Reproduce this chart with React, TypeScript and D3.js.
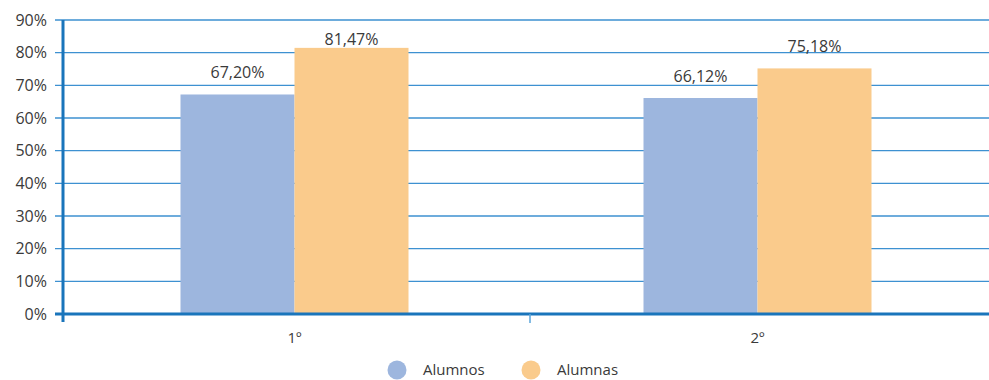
import React from "react";
import * as d3 from "d3";

const categories = ["1º", "2º"];
const seriesNames = ["Alumnos", "Alumnas"];
const alumnos = [67.2, 66.12];
const alumnas = [81.47, 75.18];
const yTicks = [0, 10, 20, 30, 40, 50, 60, 70, 80, 90];
const colors = ["#9db6de", "#facb8c"];

const W = 989;
const H = 380;
const left = 63;
const right = 989;
const top = 20;
const bottom = 314;
const font = "'Open Sans', Lato, sans-serif";

const fmt = (v: number) => v.toFixed(2).replace(".", ",") + "%";

export default function App() {
  const y = d3.scaleLinear().domain([0, 90]).range([bottom, top]);
  const x0 = d3.scaleBand<string>().domain(categories).range([left, right]).paddingInner(0).paddingOuter(0);
  const x1 = d3.scaleBand<string>().domain(seriesNames).range([0, 228]);
  const series = [alumnos, alumnas];

  return (
    <svg width={W} height={H} style={{ position: "absolute", left: 0, top: 0, background: "#fff" }}>
      {yTicks.map((t) => (
        <g key={t}>
          {t > 0 && (
            <line x1={55} x2={right} y1={y(t)} y2={y(t)} stroke="#3d91d1" strokeWidth={1.3} />
          )}
          <text x={47} y={y(t) + 5.5} textAnchor="end" fontFamily={font} fontSize={16} fill="#3a3a3a">
            {t}%
          </text>
        </g>
      ))}
      {categories.map((c, ci) =>
        series.map((s, si) => {
          const cx = x0(c)! + x0.bandwidth() / 2 - 114;
          const bx = cx + x1(seriesNames[si])!;
          const by = y(s[ci]);
          const ly = Math.max(by - 16, 45);
          return (
            <g key={c + si}>
              <rect x={bx} y={by} width={x1.bandwidth()} height={bottom - by} fill={colors[si]} />
              <text x={bx + x1.bandwidth() / 2} y={ly} textAnchor="middle" fontFamily={font} fontSize={16} fill="#3a3a3a">
                {fmt(s[ci])}
              </text>
            </g>
          );
        })
      )}
      <line x1={55} x2={right} y1={bottom} y2={bottom} stroke="#1a75bb" strokeWidth={3} />
      <line x1={left} x2={left} y1={top} y2={322} stroke="#1a75bb" strokeWidth={3} />
      {categories.slice(1).map((c) => (
        <line key={c} x1={x0(c)! + 4} x2={x0(c)! + 4} y1={bottom} y2={323} stroke="#5aa5da" strokeWidth={1.5} />
      ))}
      {categories.map((c) => (
        <text key={c} x={x0(c)! + x0.bandwidth() / 2} y={343} textAnchor="middle" fontFamily={font} fontSize={15} fill="#3a3a3a">
          {c}
        </text>
      ))}
      {seriesNames.map((n, i) => (
        <g key={n} transform={`translate(${397 + i * 134},370)`}>
          <circle r={9.5} fill={colors[i]} />
          <text x={26} y={5} fontFamily={font} fontSize={15} fill="#3a3a3a">
            {n}
          </text>
        </g>
      ))}
    </svg>
  );
}
